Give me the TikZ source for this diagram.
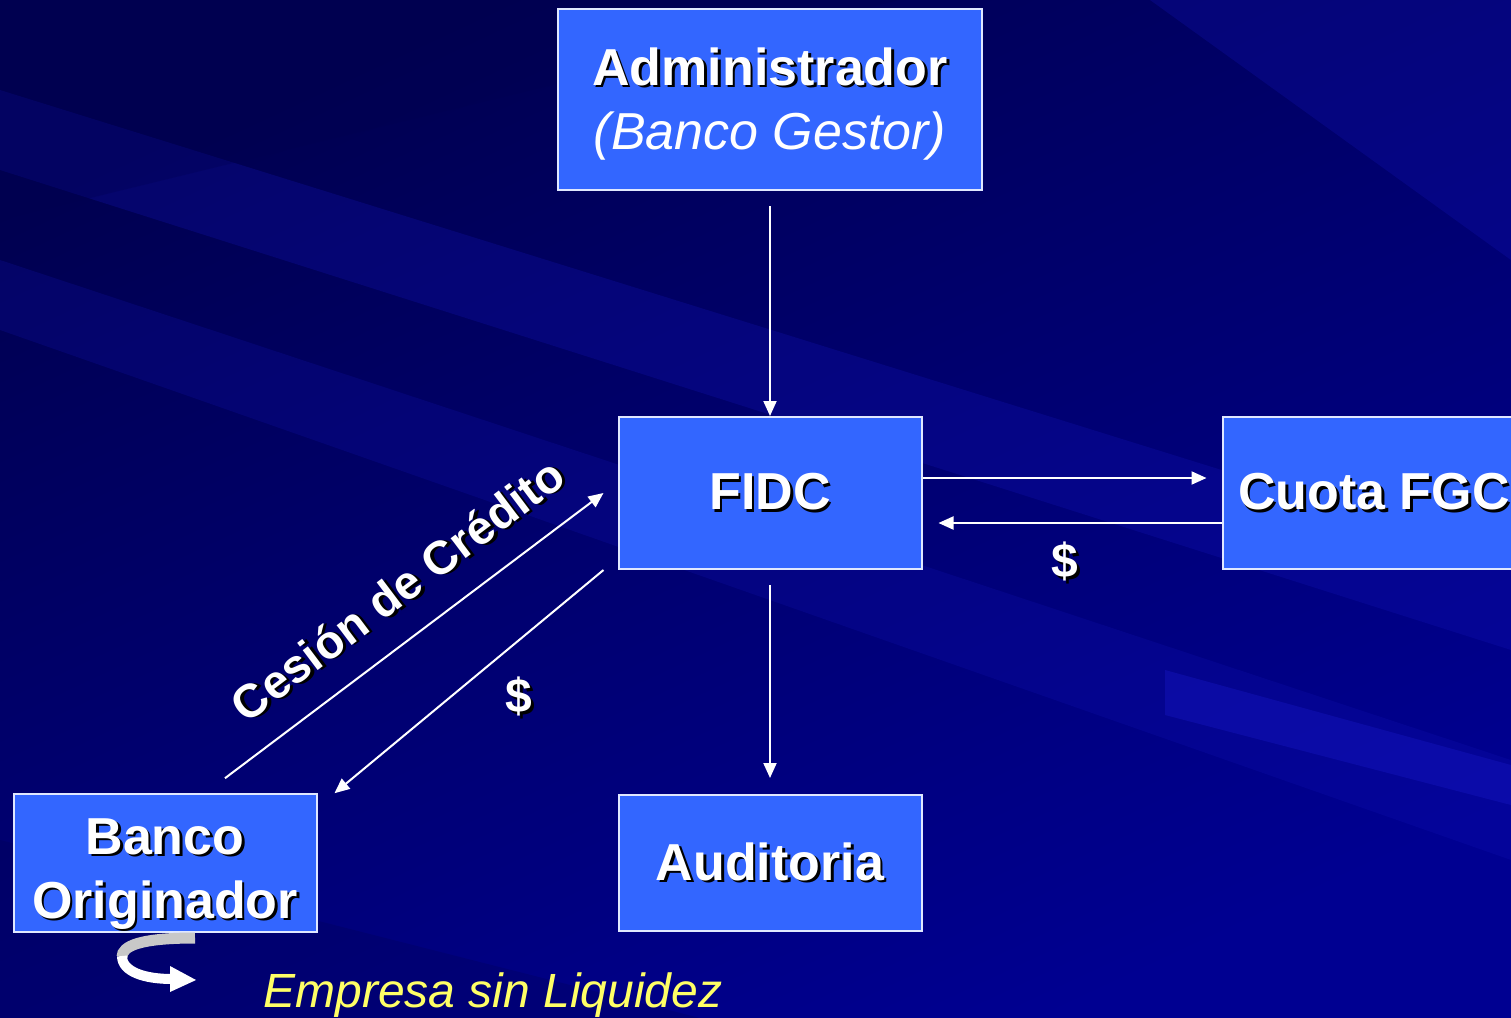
\documentclass[tikz,border=0pt]{standalone}
\usepackage{fontspec}
\setmainfont{Liberation Sans}
\usetikzlibrary{arrows.meta,positioning,calc}

\definecolor{bgnavy}{RGB}{0,0,145}
\definecolor{bgdark}{RGB}{0,0,80}
\definecolor{bglight}{RGB}{20,20,190}
\definecolor{boxblue}{RGB}{51,102,255}
\definecolor{empyellow}{RGB}{255,255,102}
\definecolor{ribbongray}{RGB}{200,200,200}

% white text with a small black drop shadow
\newcommand{\shd}[1]{\leavevmode\rlap{\kern1.3pt\raisebox{-1.3pt}{\color{black}#1}}#1}

\begin{document}
\begin{tikzpicture}[
  x=0.5pt, y=-0.5pt,
  entity/.style={rectangle, draw=white!85!boxblue, line width=1pt, fill=boxblue,
    text=white, align=center, minimum width=151.5pt, minimum height=76pt,
    inner sep=0pt, font=\fontsize{26}{32}\selectfont\bfseries},
  flow/.style={-{Triangle[length=7.5pt,width=6.5pt]}, draw=white, line width=1pt},
  money/.style={text=white, font=\fontsize{24}{28}\selectfont\bfseries},
  flowlabel/.style={text=white, inner sep=0pt, font=\fontsize{23.5}{28}\selectfont\bfseries},
]
  \useasboundingbox (0,0) rectangle (1511,1018);
  \clip (0,0) rectangle (1511,1018);

  % Background
  \shade[top color=bgdark, bottom color=bgnavy, shading angle=25] (0,0) rectangle (1511,1018);
  \fill[bglight, opacity=0.25] (0,90) -- (1511,560) -- (1511,650) -- (0,170) -- cycle;
  \fill[bglight, opacity=0.2] (0,260) -- (1511,760) -- (1511,860) -- (0,330) -- cycle;
  \fill[bglight, opacity=0.25] (1150,0) -- (1511,0) -- (1511,260) -- cycle;
  \fill[bgdark, opacity=0.3] (0,0) -- (900,0) -- (0,220) -- cycle;
  \fill[bgdark, opacity=0.25] (0,840) -- (700,1018) -- (0,1018) -- cycle;
  \fill[bglight, opacity=0.45] (1165,670) -- (1511,765) -- (1511,805) -- (1165,715) -- cycle;

  % Boxes
  \node[entity] (fidc) at (770,493) {\shd{FIDC}};
  \node[entity, minimum width=212pt, minimum height=90.5pt, above=112.5pt of fidc] (admin)
    {\rule{0pt}{23pt}\shd{Administrador}\\{\mdseries\itshape (Banco Gestor)}};
  \node[entity, right=149.5pt of fidc] (fgc) {\shd{Cuota FGC}};
  \node[entity, minimum height=68pt, below=112pt of fidc] (audit) {\shd{Auditoria}};
  \node[entity, minimum height=68pt, left=150pt of audit] (banco)
    {\rule{0pt}{30pt}\shd{Banco}\\\shd{Originador}};

  % Arrows
  \draw[flow] ([yshift=-7.5pt]admin.south) -- (fidc.north);
  \draw[flow] ([yshift=-7.5pt]fidc.south) -- ([yshift=8pt]audit.north);
  \draw[flow] ([yshift=7.5pt]fidc.east) -- ([yshift=7.5pt,xshift=-7.5pt]fgc.west);
  \draw[flow] ([yshift=-15pt]fgc.west) -- ([yshift=-15pt,xshift=8pt]fidc.east);
  \draw[flow] ([xshift=30pt,yshift=7.5pt]banco.north) -- ([xshift=-7pt]fidc.west)
    node[flowlabel, pos=0.53, sloped, above=13pt] (cesion) {\shd{Cesión de Crédito}};
  \draw[flow] ([xshift=-7pt]fidc.south west) -- ([xshift=8.5pt]banco.north east);

  % Money labels
  \node[money] (usdfgc) at (1065,563) {\shd{\$}};
  \node[money] (usdbanco) at (519,698) {\shd{\$}};

  % Turn-around ribbon under the bank
  \draw[ribbongray, line width=5.5pt] (195,938) .. controls (140,938) and (122,946) .. (122,957);
  \draw[white, line width=5pt] (122,956) .. controls (122,972) and (145,979) .. (172,979);
  \fill[white] (170,966) -- (196,980) -- (170,992) -- cycle;

  \node[anchor=base, text=empyellow, inner sep=0pt, font=\fontsize{24}{28}\selectfont\itshape]
    (liquidez) at (493,1007) {Empresa sin Liquidez};
\end{tikzpicture}
\end{document}
